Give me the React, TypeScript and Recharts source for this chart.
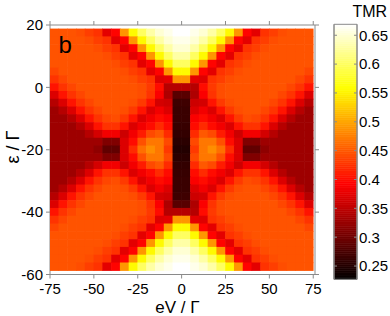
import React from 'react';
import { ScatterChart, Scatter, XAxis, YAxis, ComposedChart, ReferenceArea } from 'recharts';

// cell centres of the map (eV / Γ across, ε / Γ down)
const EV_CENTERS = [
  -72.5, -67.5, -62.5, -57.5, -52.5, -47.5, -42.5, -37.5, -32.5, -27.5, -22.5, -17.5, -12.5, -7.5, -2.5,
  2.5, 7.5, 12.5, 17.5, 22.5, 27.5, 32.5, 37.5, 42.5, 47.5, 52.5, 57.5, 62.5, 67.5, 72.5,
];
const EPS_CENTERS = [
  17.5, 15, 12.5, 10, 7.5, 5, 2.5, 0, -2.5, -5, -7.5, -10, -12.5, -15, -17.5, -20,
  -22.5, -25, -27.5, -30, -32.5, -35, -37.5, -40, -42.5, -45, -47.5, -50, -52.5, -55, -57.5,
];
const EV_STEP = 5;
const EPS_STEP = 2.5;

// TMR x 1000, one row per EPS_CENTERS entry
const TMR_MILLI = [
  [447, 447, 447, 443, 433, 425, 375, 395, 490, 555, 600, 630, 650, 660, 670, 670, 660, 650, 630, 600, 555, 490, 395, 375, 425, 433, 443, 447, 447, 447],
  [447, 447, 447, 447, 443, 433, 425, 375, 395, 490, 555, 600, 630, 650, 660, 660, 650, 630, 600, 555, 490, 395, 375, 425, 433, 443, 447, 447, 447, 447],
  [447, 447, 447, 447, 447, 443, 433, 425, 375, 395, 490, 555, 600, 630, 650, 650, 630, 600, 555, 490, 395, 375, 425, 433, 443, 447, 447, 447, 447, 447],
  [447, 447, 447, 447, 447, 447, 443, 433, 425, 375, 395, 490, 555, 600, 630, 630, 600, 555, 490, 395, 375, 425, 433, 443, 447, 447, 447, 447, 447, 447],
  [447, 447, 447, 447, 447, 447, 447, 443, 433, 425, 375, 395, 490, 555, 600, 600, 555, 490, 395, 375, 425, 433, 443, 447, 447, 447, 447, 447, 447, 447],
  [438, 447, 447, 447, 447, 447, 447, 447, 443, 433, 425, 375, 395, 490, 555, 555, 490, 395, 375, 425, 433, 443, 447, 447, 447, 447, 447, 447, 447, 438],
  [426, 438, 447, 447, 447, 447, 447, 447, 447, 443, 433, 425, 372, 375, 490, 490, 375, 372, 425, 433, 443, 447, 447, 447, 447, 447, 447, 447, 438, 426],
  [405, 426, 438, 447, 447, 447, 447, 447, 447, 447, 443, 430, 400, 345, 345, 345, 345, 400, 430, 443, 447, 447, 447, 447, 447, 447, 447, 438, 426, 405],
  [370, 405, 426, 438, 447, 447, 447, 447, 447, 447, 443, 426, 390, 340, 285, 285, 340, 390, 426, 443, 447, 447, 447, 447, 447, 447, 438, 426, 405, 370],
  [345, 370, 405, 426, 438, 447, 447, 447, 447, 443, 430, 405, 365, 360, 268, 268, 360, 365, 405, 430, 443, 447, 447, 447, 447, 438, 426, 405, 370, 345],
  [330, 345, 370, 405, 426, 438, 447, 447, 443, 430, 405, 370, 385, 370, 265, 265, 370, 385, 370, 405, 430, 443, 447, 447, 438, 426, 405, 370, 345, 330],
  [330, 330, 345, 370, 405, 426, 438, 443, 430, 405, 370, 385, 400, 390, 265, 265, 390, 400, 385, 370, 405, 430, 443, 438, 426, 405, 370, 345, 330, 330],
  [330, 330, 330, 345, 370, 405, 425, 425, 405, 370, 385, 400, 420, 400, 263, 263, 400, 420, 400, 385, 370, 405, 425, 425, 405, 370, 345, 330, 330, 330],
  [330, 330, 330, 330, 345, 365, 385, 385, 360, 385, 410, 440, 450, 420, 260, 260, 420, 450, 440, 410, 385, 360, 385, 385, 365, 345, 330, 330, 330, 330],
  [330, 330, 330, 330, 330, 330, 310, 310, 370, 400, 445, 470, 470, 440, 255, 255, 440, 470, 470, 445, 400, 370, 310, 310, 330, 330, 330, 330, 330, 330],
  [330, 330, 330, 330, 330, 320, 290, 290, 370, 420, 465, 485, 470, 430, 250, 250, 430, 470, 485, 465, 420, 370, 290, 290, 320, 330, 330, 330, 330, 330],
  [330, 330, 330, 330, 330, 330, 310, 310, 370, 400, 445, 470, 470, 440, 255, 255, 440, 470, 470, 445, 400, 370, 310, 310, 330, 330, 330, 330, 330, 330],
  [330, 330, 330, 330, 345, 365, 385, 385, 360, 385, 410, 440, 450, 420, 260, 260, 420, 450, 440, 410, 385, 360, 385, 385, 365, 345, 330, 330, 330, 330],
  [330, 330, 330, 345, 370, 405, 425, 425, 405, 370, 385, 400, 420, 400, 263, 263, 400, 420, 400, 385, 370, 405, 425, 425, 405, 370, 345, 330, 330, 330],
  [330, 330, 345, 370, 405, 426, 438, 443, 430, 405, 370, 385, 400, 390, 265, 265, 390, 400, 385, 370, 405, 430, 443, 438, 426, 405, 370, 345, 330, 330],
  [330, 345, 370, 405, 426, 438, 447, 447, 443, 430, 405, 370, 385, 370, 265, 265, 370, 385, 370, 405, 430, 443, 447, 447, 438, 426, 405, 370, 345, 330],
  [345, 370, 405, 426, 438, 447, 447, 447, 447, 443, 430, 405, 365, 360, 268, 268, 360, 365, 405, 430, 443, 447, 447, 447, 447, 438, 426, 405, 370, 345],
  [370, 405, 426, 438, 447, 447, 447, 447, 447, 447, 443, 426, 390, 340, 285, 285, 340, 390, 426, 443, 447, 447, 447, 447, 447, 447, 438, 426, 405, 370],
  [405, 426, 438, 447, 447, 447, 447, 447, 447, 447, 443, 430, 400, 345, 345, 345, 345, 400, 430, 443, 447, 447, 447, 447, 447, 447, 447, 438, 426, 405],
  [426, 438, 447, 447, 447, 447, 447, 447, 447, 443, 433, 425, 372, 375, 490, 490, 375, 372, 425, 433, 443, 447, 447, 447, 447, 447, 447, 447, 438, 426],
  [438, 447, 447, 447, 447, 447, 447, 447, 443, 433, 425, 375, 395, 490, 555, 555, 490, 395, 375, 425, 433, 443, 447, 447, 447, 447, 447, 447, 447, 438],
  [447, 447, 447, 447, 447, 447, 447, 443, 433, 425, 375, 395, 490, 555, 600, 600, 555, 490, 395, 375, 425, 433, 443, 447, 447, 447, 447, 447, 447, 447],
  [447, 447, 447, 447, 447, 447, 443, 433, 425, 375, 395, 490, 555, 600, 630, 630, 600, 555, 490, 395, 375, 425, 433, 443, 447, 447, 447, 447, 447, 447],
  [447, 447, 447, 447, 447, 443, 433, 425, 375, 395, 490, 555, 600, 630, 650, 650, 630, 600, 555, 490, 395, 375, 425, 433, 443, 447, 447, 447, 447, 447],
  [447, 447, 447, 447, 443, 433, 425, 375, 395, 490, 555, 600, 630, 650, 660, 660, 650, 630, 600, 555, 490, 395, 375, 425, 433, 443, 447, 447, 447, 447],
  [447, 447, 447, 443, 433, 425, 375, 395, 490, 555, 600, 630, 650, 660, 670, 670, 660, 650, 630, 600, 555, 490, 395, 375, 425, 433, 443, 447, 447, 447],
];

const X_TICKS = [-75, -50, -25, 0, 25, 50, 75];
const Y_TICKS = [-60, -40, -20, 0, 20];
const CBAR_TICKS = [0.25, 0.3, 0.35, 0.4, 0.45, 0.5, 0.55, 0.6, 0.65];
const CMIN = 0.227;
const CMAX = 0.669;

const X_DOMAIN: [number, number] = [-75, 76];
const Y_DOMAIN: [number, number] = [-60, 20];
const AXIS_GREY = '#8a8a8a';
const FONT = '"Liberation Sans", Arial, sans-serif';

// plot box of the map: 265 x 249.5 px
const PLOT_W = 265;
const PLOT_H = 249.5;
const CELL_W = (EV_STEP * PLOT_W) / (X_DOMAIN[1] - X_DOMAIN[0]);
const CELL_H = (EPS_STEP * PLOT_H) / (Y_DOMAIN[1] - Y_DOMAIN[0]);

// matlab "hot"
function hot(v: number) {
  const t = Math.min(1, Math.max(0, (v - CMIN) / (CMAX - CMIN)));
  const r = Math.min(1, t / 0.375);
  const g = Math.min(1, Math.max(0, (t - 0.375) / 0.375));
  const b = Math.min(1, Math.max(0, (t - 0.75) / 0.25));
  return `rgb(${Math.round(r * 255)},${Math.round(g * 255)},${Math.round(b * 255)})`;
}

const cells = EPS_CENTERS.flatMap((eps, i) =>
  EV_CENTERS.map((eV, j) => ({ eV, eps, tmr: TMR_MILLI[i][j] / 1000 }))
);

const renderCell = (props: any) => {
  const { cx, cy, payload } = props;
  const c = hot(payload.tmr);
  return (
    <rect
      x={cx - CELL_W / 2 - 0.3}
      y={cy - CELL_H / 2 - 0.3}
      width={CELL_W + 0.6}
      height={CELL_H + 0.6}
      fill={c}
    />
  );
};

const BAND_COUNT = 120;
const bands = Array.from({ length: BAND_COUNT }, (_, i) => {
  const y1 = CMIN + ((CMAX - CMIN) * i) / BAND_COUNT;
  const y2 = CMIN + ((CMAX - CMIN) * (i + 1)) / BAND_COUNT;
  return { y1, y2, color: hot((y1 + y2) / 2) };
});

const tickText = { fill: '#000', fontSize: 15, fontFamily: FONT };
const blank = () => '';

export default function App() {
  return (
    <div style={{ position: 'absolute', left: 0, top: 0, width: 390, height: 316, background: '#fff', fontFamily: FONT }}>
      <div style={{ position: 'absolute', left: 0, top: 0 }}>
        <ScatterChart width={330} height={316} margin={{ top: 24, right: 14, bottom: 0, left: 0 }}>
          <XAxis
            xAxisId="b"
            type="number"
            dataKey="eV"
            domain={X_DOMAIN}
            ticks={X_TICKS}
            height={41.5}
            stroke={AXIS_GREY}
            tickSize={4}
            tickMargin={5}
            tick={tickText}
            allowDataOverflow
          />
          <XAxis
            xAxisId="t"
            orientation="top"
            type="number"
            dataKey="eV"
            domain={X_DOMAIN}
            ticks={X_TICKS}
            height={1}
            stroke={AXIS_GREY}
            tickSize={4}
            tickFormatter={blank}
            allowDataOverflow
          />
          <YAxis
            yAxisId="l"
            type="number"
            dataKey="eps"
            domain={Y_DOMAIN}
            ticks={Y_TICKS}
            width={50}
            stroke={AXIS_GREY}
            tickSize={4}
            tickMargin={3}
            tick={tickText}
            allowDataOverflow
          />
          <YAxis
            yAxisId="r"
            orientation="right"
            type="number"
            dataKey="eps"
            domain={Y_DOMAIN}
            ticks={Y_TICKS}
            width={1}
            stroke={AXIS_GREY}
            tickSize={4}
            tickFormatter={blank}
            allowDataOverflow
          />
          <Scatter data={cells} xAxisId="b" yAxisId="l" shape={renderCell} isAnimationActive={false} />
        </ScatterChart>
      </div>

      <div style={{ position: 'absolute', left: 333, top: 0 }}>
        <ComposedChart
          width={57}
          height={316}
          data={[{ x: 0 }, { x: 1 }]}
          margin={{ top: 24.3, right: 0, bottom: 36.7, left: 0 }}
        >
          <XAxis dataKey="x" type="number" domain={[0, 1]} hide allowDataOverflow />
          <YAxis
            yAxisId="inL"
            orientation="left"
            type="number"
            domain={[CMIN, CMAX]}
            ticks={CBAR_TICKS}
            width={1}
            stroke={AXIS_GREY}
            tickSize={-3}
            tickFormatter={blank}
            allowDataOverflow
          />
          <YAxis
            yAxisId="c"
            orientation="right"
            type="number"
            domain={[CMIN, CMAX]}
            ticks={CBAR_TICKS}
            width={33}
            stroke={AXIS_GREY}
            tickSize={-3}
            tickMargin={5}
            tick={tickText}
            tickFormatter={(v: number) => String(v)}
            allowDataOverflow
          />
          {bands.map((b, i) => (
            <ReferenceArea
              key={i}
              yAxisId="c"
              y1={b.y1}
              y2={b.y2}
              fill={b.color}
              fillOpacity={1}
              stroke={b.color}
              strokeWidth={0.6}
              ifOverflow="visible"
            />
          ))}
          <ReferenceArea yAxisId="c" y1={CMIN} y2={CMAX} fill="none" stroke={AXIS_GREY} strokeWidth={1} ifOverflow="visible" />
        </ComposedChart>
      </div>

      <svg width={390} height={316} style={{ position: 'absolute', left: 0, top: 0, pointerEvents: 'none' }}>
        <text x={58.5} y={53} fontSize={24} fontFamily={FONT} fill="#000">b</text>
        <text x={352.5} y={16.7} fontSize={16} fontFamily={FONT} fill="#000">TMR</text>
        <text x={177.5} y={313} fontSize={17} fontFamily={FONT} fill="#000" textAnchor="middle">eV / Γ</text>
        <text
          x={19}
          y={147}
          fontSize={18}
          fontFamily={FONT}
          fill="#000"
          textAnchor="middle"
          transform="rotate(-90 19 147)"
        >
          ε / Γ
        </text>
      </svg>
    </div>
  );
}
